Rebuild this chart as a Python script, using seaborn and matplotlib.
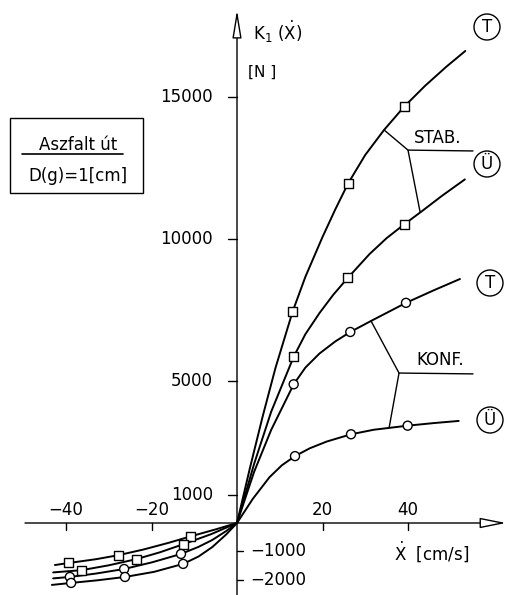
import numpy as np
import pandas as pd
import matplotlib
matplotlib.use('Agg')
import matplotlib.pyplot as plt
from matplotlib.patches import Rectangle, Ellipse
from matplotlib.lines import Line2D
import seaborn as sns

# curves (x in cm/s, y in N)
t_stab_x = [-42.6, -39.3, -33, -27.8, -22, -16, -10.8, -5, 0,
            3, 6, 9, 13.0, 16, 20, 23, 26.0, 30, 34.4, 39.1, 44, 49, 53.4]
t_stab_y = [-1480, -1407, -1275, -1135, -938, -698, -469, -225, 0,
            1920, 3750, 5460, 7440, 8670, 10070, 11045, 11960, 12960, 13840, 14660, 15395, 16070, 16620]
u_stab_x = [-43, -36.3, -30, -23.6, -18, -12.6, -6, 0,
            4, 8, 13.26, 16, 19.3, 22.5, 25.9, 31, 35, 39.14, 43, 48, 53.3]
u_stab_y = [-1740, -1660, -1490, -1275, -1030, -750, -390, 0,
            2080, 3920, 5856, 6650, 7393, 8033, 8628, 9470, 10030, 10519, 10951, 11526, 12098]
t_konf_x = [-43, -39.1, -33, -26.4, -19.75, -13.1, -9, -5.8, -2.5, 0,
            4, 8, 13.26, 16, 19.3, 23, 26.5, 31.35, 39.53, 46, 52.16]
t_konf_y = [-1950, -1900, -1780, -1620, -1380, -1090, -840, -600, -280, 0,
            1800, 3280, 4884, 5473, 5968, 6394, 6726, 7114, 7752, 8192, 8592]
u_konf_x = [-43.3, -38.8, -32.5, -26.2, -19.4, -12.6, -9, -5.8, -2.5, 0,
            3.7, 7.6, 10.5, 13.57, 17, 21, 26.67, 32, 39.92, 46, 51.86]
u_konf_y = [-2180, -2110, -2015, -1900, -1720, -1440, -1180, -850, -400, 0,
            851, 1612, 2033, 2355, 2629, 2869, 3124, 3284, 3427, 3518, 3594]

# measured points (markers)
t_stab_mx = [-39.3, -27.8, -10.8, 13.0, 26.0, 39.1]
t_stab_my = [-1407, -1135, -469, 7440, 11960, 14660]
u_stab_mx = [-36.3, -23.6, -12.6, 13.26, 25.9, 39.14]
u_stab_my = [-1660, -1275, -750, 5856, 8628, 10519]
t_konf_mx = [-39.1, -26.4, -13.1, 13.26, 26.5, 39.53]
t_konf_my = [-1900, -1620, -1090, 4884, 6726, 7752]
u_konf_mx = [-38.8, -26.2, -12.6, 13.57, 26.67, 39.92]
u_konf_my = [-2110, -1900, -1440, 2355, 3124, 3427]

xtick_vals = [-40, -20, 20, 40]
ytick_vals = [15000, 10000, 5000, 1000]
yneg_vals = [-1000, -2000]

W, H = 508, 595


def fpos(px, py):
    # pixel position in the figure -> figure fraction
    return px / W, 1 - py / H


curves = pd.concat([
    pd.DataFrame({'x': t_stab_x, 'y': t_stab_y, 'curve': 'T STAB'}),
    pd.DataFrame({'x': u_stab_x, 'y': u_stab_y, 'curve': 'Ü STAB'}),
    pd.DataFrame({'x': t_konf_x, 'y': t_konf_y, 'curve': 'T KONF'}),
    pd.DataFrame({'x': u_konf_x, 'y': u_konf_y, 'curve': 'Ü KONF'}),
])
points = pd.concat([
    pd.DataFrame({'x': t_stab_mx, 'y': t_stab_my, 'shape': 'square'}),
    pd.DataFrame({'x': u_stab_mx, 'y': u_stab_my, 'shape': 'square'}),
    pd.DataFrame({'x': t_konf_mx, 'y': t_konf_my, 'shape': 'circle'}),
    pd.DataFrame({'x': u_konf_mx, 'y': u_konf_my, 'shape': 'circle'}),
])

sns.set_style('white')
plt.rcParams['font.family'] = ['DejaVu Sans']
plt.rcParams['mathtext.fontset'] = 'dejavusans'
plt.rcParams['text.color'] = 'black'

fig = plt.figure(figsize=(W / 100, H / 100), dpi=100)
ax = fig.add_axes([0, 0, 1, 1])
ax.set_xlim(-237 / 4.275, (W - 237) / 4.275)
ax.set_ylim(-(H - 523) / 0.0284, 523 / 0.0284)
ax.axis('off')

sns.lineplot(data=curves, x='x', y='y', units='curve', estimator=None, sort=False,
             color='black', lw=1.4, ax=ax, legend=False, zorder=3)
sns.scatterplot(data=points, x='x', y='y', style='shape',
                markers={'square': 's', 'circle': 'o'}, s=42,
                facecolor='white', edgecolor='black', linewidth=1.0,
                ax=ax, legend=False, zorder=4)

ylo, yhi = ax.get_ylim()

# axes with hollow arrow heads
ax.annotate('', xy=(0, (523 - 10) / 0.0284), xytext=(0, ylo),
            arrowprops=dict(arrowstyle='-|>,head_length=1.7,head_width=0.28',
                            fc='white', ec='black', lw=1.0, shrinkA=0, shrinkB=0,
                            mutation_scale=10), zorder=2)
ax.annotate('', xy=((506 - 237) / 4.275, 0), xytext=((25 - 237) / 4.275, 0),
            arrowprops=dict(arrowstyle='-|>,head_length=1.6,head_width=0.32',
                            fc='white', ec='black', lw=1.0, shrinkA=0, shrinkB=0,
                            mutation_scale=10), zorder=2)

fs = 12
# x ticks and labels
for v in xtick_vals:
    ax.plot([v, v], [0, -7 / 0.0284], color='black', lw=1.0)
    ax.text(v, 13 / 0.0284, f'{v}'.replace('-', '\u2212'), ha='center', va='center', fontsize=fs)
# positive y ticks (left side)
for v in ytick_vals:
    ax.plot([-9 / 4.275, 0], [v, v], color='black', lw=1.0)
    ax.text(-24 / 4.275, v, f'{v}', ha='right', va='center', fontsize=fs)
# negative y ticks (right side)
for v in yneg_vals:
    ax.plot([0, 6 / 4.275], [v, v], color='black', lw=1.0)
    ax.text(13 / 4.275, v, f'{v}'.replace('-', '\u2212'), ha='left', va='center', fontsize=fs)

# axis titles
fig.text(*fpos(253, 32), r'K$_1$ ($\dot{\mathrm{X}}$)', ha='left', va='center', fontsize=fs)
fig.text(*fpos(248, 72), '[N ]', ha='left', va='center', fontsize=fs - 1)
fig.text(*fpos(394, 552), r'$\dot{\mathrm{X}}$  [cm/s]', ha='left', va='center', fontsize=fs)

# STAB. leader lines
ax.plot([34.4, 40.0, 42.8], [13840, 13130, 10970], color='black', lw=1.0)
ax.plot([40.0, 55.2], [13130, 13100], color='black', lw=1.0)
fig.text(*fpos(438, 138), 'STAB.', ha='center', va='center', fontsize=fs)
# KONF. leader lines
ax.plot([31.35, 37.9, 35.6], [7114, 5280, 3370], color='black', lw=1.0)
ax.plot([37.9, 55.2], [5280, 5250], color='black', lw=1.0)
fig.text(*fpos(440, 360), 'KONF.', ha='center', va='center', fontsize=fs)

# circled curve names
for (cx, cy), lab in [((487, 27), 'T'), ((487, 164), 'Ü'), ((490, 283), 'T'), ((490, 420), 'Ü')]:
    fx, fy = fpos(cx, cy)
    fig.add_artist(Ellipse((fx, fy), 26 / W, 26 / H, transform=fig.transFigure,
                           fc='white', ec='black', lw=1.0))
    fig.text(fx, fy, lab, ha='center', va='center', fontsize=fs)

# road surface box
bx0, by1 = fpos(10, 193)
fig.add_artist(Rectangle((bx0, by1), 133 / W, 75 / H, transform=fig.transFigure,
                         fc='white', ec='black', lw=1.0))
fig.text(*fpos(78, 145), 'Aszfalt út', ha='center', va='center', fontsize=fs)
ux0, uy = fpos(22, 154)
ux1, _ = fpos(123, 154)
fig.add_artist(Line2D([ux0, ux1], [uy, uy], transform=fig.transFigure, color='black', lw=1.2))
fig.text(*fpos(78, 176), 'D(g)=1[cm]', ha='center', va='center', fontsize=fs)

fig.savefig('out.png', dpi=100)
plt.close(fig)
